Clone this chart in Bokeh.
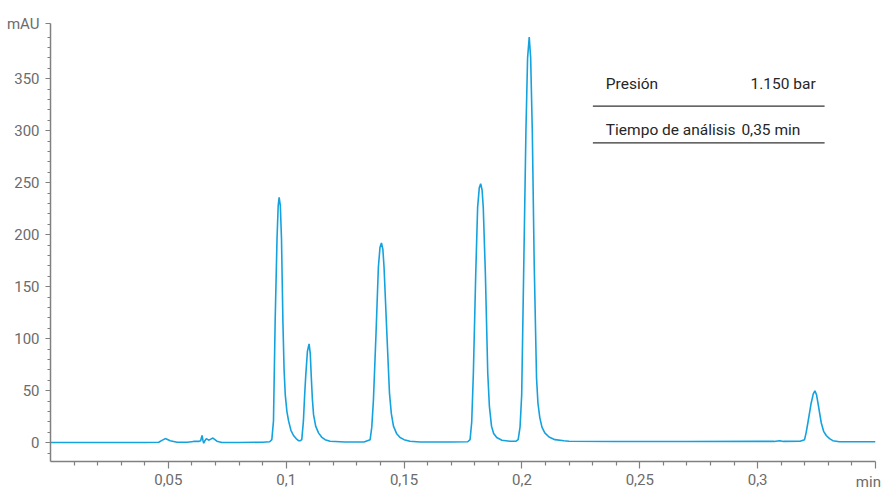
from bokeh.plotting import figure
from bokeh.models import Range1d, FixedTicker, Label, LinearAxis
from bokeh.embed import file_html
from bokeh.resources import INLINE

# ---- data ----
time_min = [0.0, 0.02, 0.04, 0.0459, 0.0475, 0.0487, 0.0508, 0.0537, 0.058, 0.0607, 0.0628, 0.0637,
            0.0643, 0.0647, 0.0650, 0.0655, 0.0661, 0.0671, 0.0680, 0.0689, 0.0706, 0.0727, 0.08, 0.09,
            0.093, 0.0939, 0.0946, 0.0953, 0.0961, 0.0966, 0.0970, 0.0975, 0.0980, 0.0986, 0.0991, 0.0996,
            0.1003, 0.1010, 0.1020, 0.1031, 0.1042, 0.1052, 0.1060, 0.1066, 0.1073, 0.1078, 0.1083, 0.1090,
            0.1097, 0.1102, 0.1106, 0.1111, 0.1116, 0.1125, 0.1137, 0.1150, 0.1165, 0.1186, 0.125, 0.133,
            0.1356, 0.1363, 0.1370, 0.1381, 0.1391, 0.1398, 0.1404, 0.1410, 0.1415, 0.1427, 0.1438, 0.1446,
            0.1455, 0.1468, 0.1483, 0.1500, 0.1525, 0.1568, 0.17, 0.177, 0.1780, 0.1787, 0.1794, 0.1804,
            0.1812, 0.1819, 0.1825, 0.1831, 0.1836, 0.1845, 0.1855, 0.1862, 0.1871, 0.1880, 0.1893, 0.1915,
            0.1949, 0.1975, 0.1984, 0.1992, 0.1999, 0.2008, 0.2017, 0.2024, 0.2031, 0.2037, 0.2044, 0.2052,
            0.2062, 0.2068, 0.2076, 0.2085, 0.2097, 0.2115, 0.2140, 0.2178, 0.22, 0.24, 0.27, 0.30, 0.307,
            0.3093, 0.311, 0.318, 0.3199, 0.3206, 0.3213, 0.3227, 0.3236, 0.3243, 0.3250, 0.3256, 0.3270,
            0.3280, 0.3291, 0.3305, 0.3319, 0.3347, 0.35]
signal_mau = [0.2, 0.2, 0.3, 0.5, 2.5, 4, 2, 0.5, 0.5, 1.3, 1.3, 2,
              7, 2, -0.5, 2, 4, 2.5, 3.5, 4.5, 1.5, 0.3, 0.3, 0.5,
              1, 3, 21, 116, 196, 228, 236, 228, 196, 116, 70, 46,
              30, 21, 12, 7, 4, 2, 2, 3, 21, 45, 65, 88,
              95, 86, 65, 42, 27, 16, 9.5, 5.5, 3, 1.5, 0.8, 0.8,
              3, 15, 41, 105, 169, 188, 192, 186, 169, 105, 48, 28,
              16, 9, 5, 3, 1.5, 0.7, 0.7, 1, 3, 20, 67, 162,
              226, 245, 249, 243, 226, 162, 67, 35, 16, 9, 5, 2.5,
              1.5, 1.5, 3, 15, 46, 173, 300, 370, 390, 370, 300, 173,
              62, 38, 24, 15, 9.5, 5.5, 3, 2, 1.5, 1.2, 1.2, 1.3, 1.3,
              2, 1.3, 1.5, 3, 10, 19, 38, 47, 50, 46, 38, 19,
              11, 7, 4, 2, 1, 1]

x_major_ticks = [0.05, 0.1, 0.15, 0.2, 0.25, 0.3, 0.35]
x_tick_labels = ["0,05", "0,1", "0,15", "0,2", "0,25", "0,3", ""]
x_unit_label = "min"
x_minor_ticks = [0.01, 0.02, 0.03, 0.04, 0.06, 0.07, 0.08, 0.09, 0.11, 0.12, 0.13, 0.14,
                 0.16, 0.17, 0.18, 0.19, 0.21, 0.22, 0.23, 0.24, 0.26, 0.27, 0.28, 0.29,
                 0.31, 0.32, 0.33, 0.34]
y_major_ticks = [0, 50, 100, 150, 200, 250, 300, 350, 403]
y_tick_labels = ["0", "50", "100", "150", "200", "250", "300", "350", "mAU"]
y_minor_ticks = [-10, 10, 20, 30, 40, 60, 70, 80, 90, 110, 120, 130, 140, 160, 170, 180, 190,
                 210, 220, 230, 240, 260, 270, 280, 290, 310, 320, 330, 340, 360, 370, 380, 390]

table_rows = ["Presión", "Tiempo de análisis"]
table_values = ["1.150 bar", "0,35 min"]

# ---- figure ----
p = figure(width=884, height=493, output_backend="svg", toolbar_location=None,
           x_range=Range1d(0, 0.35), y_range=Range1d(-18, 403),
           min_border_left=50, min_border_right=9, min_border_top=23, min_border_bottom=28)
p.outline_line_color = None
p.xgrid.visible = False
p.ygrid.visible = False
p.background_fill_color = "white"

p.line(time_min, signal_mau, line_color="#14a2df", line_width=1.6)

axis_grey = "#808080"
label_grey = "#6b6b6b"
font = "Roboto"

xa = p.xaxis[0]
xa.ticker = FixedTicker(ticks=x_major_ticks, minor_ticks=x_minor_ticks)
xa.major_label_overrides = {t: l for t, l in zip(x_major_ticks, x_tick_labels)}
ya = p.yaxis[0]
ya.ticker = FixedTicker(ticks=y_major_ticks, minor_ticks=y_minor_ticks)
ya.major_label_overrides = {t: l for t, l in zip(y_major_ticks, y_tick_labels)}

for ax in (xa, ya):
    ax.axis_line_color = axis_grey
    ax.axis_line_width = 1.5
    ax.major_tick_line_color = axis_grey
    ax.minor_tick_line_color = axis_grey
    ax.major_tick_line_width = 1.2
    ax.minor_tick_line_width = 1.2
    ax.major_tick_in = 0
    ax.minor_tick_in = 0
    ax.major_label_text_color = label_grey
    ax.major_label_text_font = font
    ax.major_label_text_font_size = "15px"
xa.major_tick_out = 7
xa.minor_tick_out = 4
xa.major_label_standoff = 5
ya.major_tick_out = 5
ya.minor_tick_out = 3
ya.major_label_standoff = 6

# unit label of the x axis, right-aligned at the end of the axis, on the tick-label line
ua = LinearAxis(ticker=FixedTicker(ticks=[0.35], minor_ticks=[]),
                major_label_overrides={0.35: x_unit_label})
ua.axis_line_color = None
ua.major_tick_line_color = None
ua.minor_tick_line_color = None
ua.major_tick_out = 0
ua.major_tick_in = 0
ua.major_label_standoff = -15
ua.major_label_text_align = "right"
ua.major_label_text_color = label_grey
ua.major_label_text_font = font
ua.major_label_text_font_size = "15px"
p.add_layout(ua, "below")

# info table
row_y = [344.5, 300.6]
line_y = [323.5, 288.2]
val_x = [0.2970, 0.2931]
for name, val, ry, vx in zip(table_rows, table_values, row_y, val_x):
    p.add_layout(Label(x=0.2356, y=ry, text=name, text_align="left", text_baseline="middle",
                       text_font=font, text_font_size="15.5px", text_color="#262626"))
    p.add_layout(Label(x=vx, y=ry, text=val, text_align="left", text_baseline="middle",
                       text_font=font, text_font_size="15.5px", text_color="#262626"))
p.segment(x0=[0.2301, 0.2301], x1=[0.3284, 0.3284], y0=line_y, y1=line_y,
          line_color="#333333", line_width=1.2)

open("out.html", "w").write(file_html(p, INLINE))
